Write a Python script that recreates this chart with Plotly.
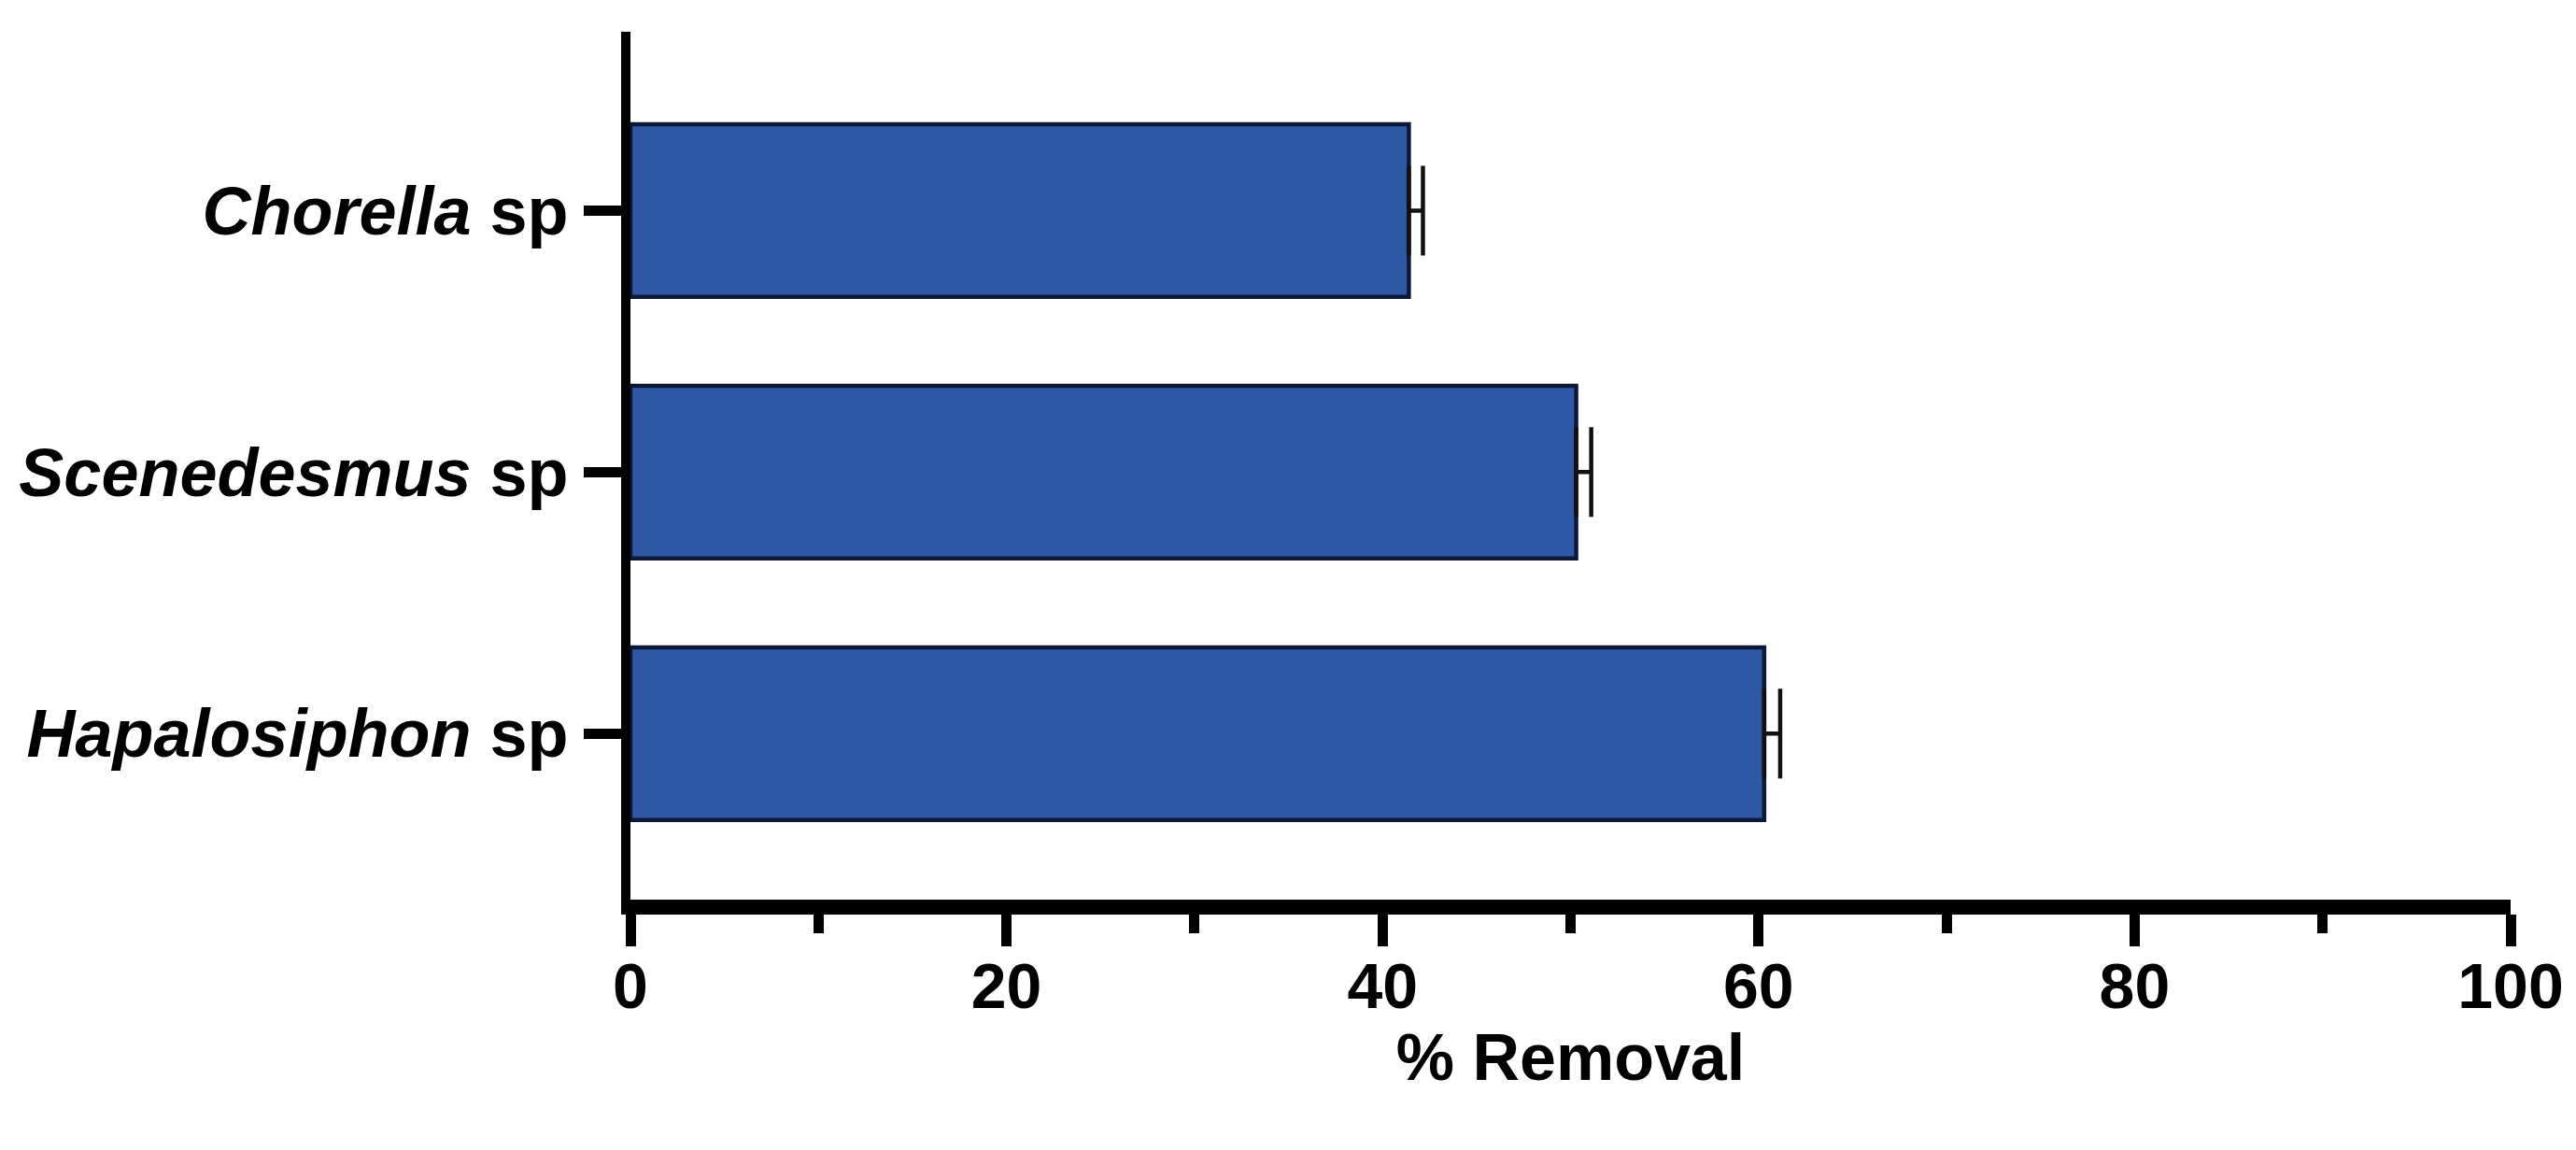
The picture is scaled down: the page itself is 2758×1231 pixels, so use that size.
import plotly.graph_objects as go

categories = ["Chorella", "Scenedesmus", "Hapalosiphon"]
removal = [41.4, 50.3, 60.3]
error_plus = [0.75, 0.8, 0.85]
x_ticks = [0, 20, 40, 60, 80, 100]
x_title = "% Removal"

tick_text = [f"<b><i>{c}</i> sp</b>" for c in categories]

fig = go.Figure()
fig.add_trace(go.Bar(
    y=categories,
    x=removal,
    orientation="h",
    width=0.66,
    marker=dict(color="#2e58a5", line=dict(color="#0b1838", width=4.5)),
    error_x=dict(type="data", symmetric=False, array=error_plus,
                 arrayminus=[0] * len(removal),
                 color="#111111", thickness=4.5, width=48),
))

fig.update_layout(
    width=2758, height=1231,
    margin=dict(l=660, r=78, t=26, b=276),
    paper_bgcolor="white", plot_bgcolor="white",
    showlegend=False,
    font=dict(family="Liberation Sans, Arial, sans-serif", color="black"),
)

fig.update_xaxes(
    range=[0, 100],
    tickvals=x_ticks,
    ticktext=[f"<b>{v}</b>" for v in x_ticks],
    tickfont=dict(size=68, color="black"),
    showline=True, linecolor="black", linewidth=16,
    ticks="outside", ticklen=34, tickwidth=11, tickcolor="black",
    minor=dict(dtick=10, tick0=0, ticks="outside", ticklen=20, tickwidth=11,
               tickcolor="black", showgrid=False),
    showgrid=False, zeroline=False,
    title=dict(text=f"<b>{x_title}</b>", font=dict(size=70, color="black"), standoff=8),
    ticklabelstandoff=-16,
)

fig.update_yaxes(
    type="category",
    categoryorder="array", categoryarray=categories,
    tickvals=categories, ticktext=tick_text,
    range=[2.635, -0.684],
    tickfont=dict(size=72, color="black"),
    showline=True, linecolor="black", linewidth=10,
    ticks="outside", ticklen=40, tickwidth=11, tickcolor="black",
    showgrid=False, zeroline=False,
    ticklabelstandoff=2,
)

fig.write_html("out.html")
